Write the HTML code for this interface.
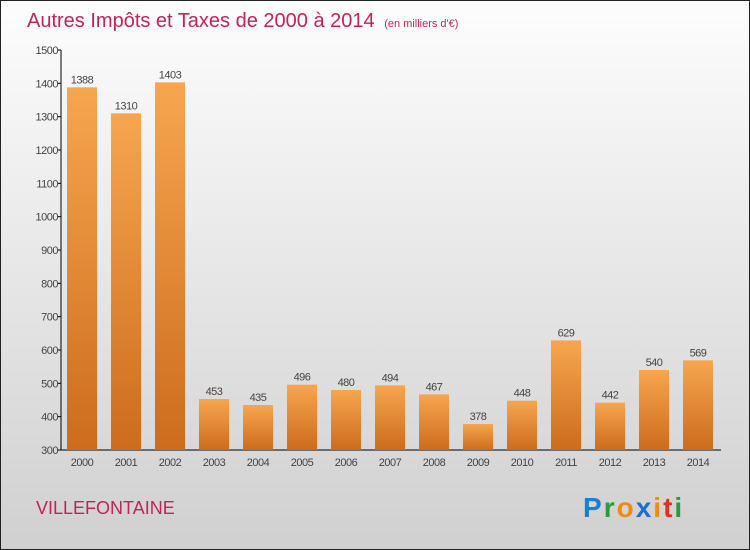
<!DOCTYPE html>
<html><head><meta charset="utf-8"><style>
body{margin:0}
svg{display:block;font-family:"Liberation Sans",sans-serif}
</style></head><body>
<svg id="c" width="750" height="550">
<defs>
<linearGradient id="bg" x1="0" y1="0" x2="0" y2="1"><stop offset="0" stop-color="#fdfdfd"/><stop offset="1" stop-color="#d0d0d0"/></linearGradient>
<linearGradient id="bar" x1="0" y1="0" x2="0" y2="1"><stop offset="0" stop-color="#f7a650"/><stop offset="1" stop-color="#cc6c1c"/></linearGradient>
</defs>
<rect x="0.5" y="0.5" width="749" height="549" fill="url(#bg)" stroke="#222"/>
<text x="27" y="27" font-size="20" fill="#c0245a">Autres Impôts et Taxes de 2000 à 2014 <tspan font-size="11" dx="4">(en milliers d'€)</tspan></text>
<text x="36" y="514" font-size="18" fill="#c0245a">VILLEFONTAINE</text>
<g font-size="28" font-weight="bold">
<text x="583" y="517" letter-spacing="2"><tspan fill="#1a7fd4">P</tspan><tspan fill="#2a9a3a">r</tspan><tspan fill="#f08a10">o</tspan><tspan fill="#1a6fd0">x</tspan><tspan fill="#f08a10">i</tspan><tspan fill="#e03020">t</tspan><tspan fill="#2a9a3a">i</tspan></text>
</g>
<g id="plot"></g>
</svg>
<script>
const years=["2000","2001","2002","2003","2004","2005","2006","2007","2008","2009","2010","2011","2012","2013","2014"];
const values=[1388,1310,1403,453,435,496,480,494,467,378,448,629,442,540,569];
const ticks=[300,400,500,600,700,800,900,1000,1100,1200,1300,1400,1500];
const NS="http://www.w3.org/2000/svg";
const g=document.getElementById('plot');
const y=v=>450-(v-300)*400/1200;
const x=i=>82+i*44;
function mk(t,a,txt){const e=document.createElementNS(NS,t);for(const k in a)e.setAttribute(k,a[k]);if(txt!==undefined)e.textContent=txt;g.appendChild(e);return e;}
let ax=mk('line',{x1:61,y1:50,x2:61,y2:450,stroke:'#000'});


let bx=mk('line',{x1:61,y1:450,x2:721,y2:450,stroke:'#000'});


ticks.forEach(t=>{
 let l=mk('line',{x1:58,y1:y(t),x2:61,y2:y(t),stroke:'#000'});
 
 
 let tx=mk('text',{x:58,y:y(t)+4,'font-size':11,fill:'#444','text-anchor':'end','letter-spacing':'-0.5'},t);
 
 
});
years.forEach((yr,i)=>{
 const v=values[i];
 let r=mk('rect',{x:x(i)-15,y:y(v),width:30,height:450-y(v),fill:'url(#bar)'});
 
 
 let vl=mk('text',{x:x(i),y:y(v)-4,'font-size':11,fill:'#444','text-anchor':'middle','letter-spacing':'-0.5'},v);
 
 
 let xl=mk('text',{x:x(i),y:466,'font-size':11,fill:'#444','text-anchor':'middle','letter-spacing':'-0.5'},yr);
 
 
});
</script>
</body></html>
